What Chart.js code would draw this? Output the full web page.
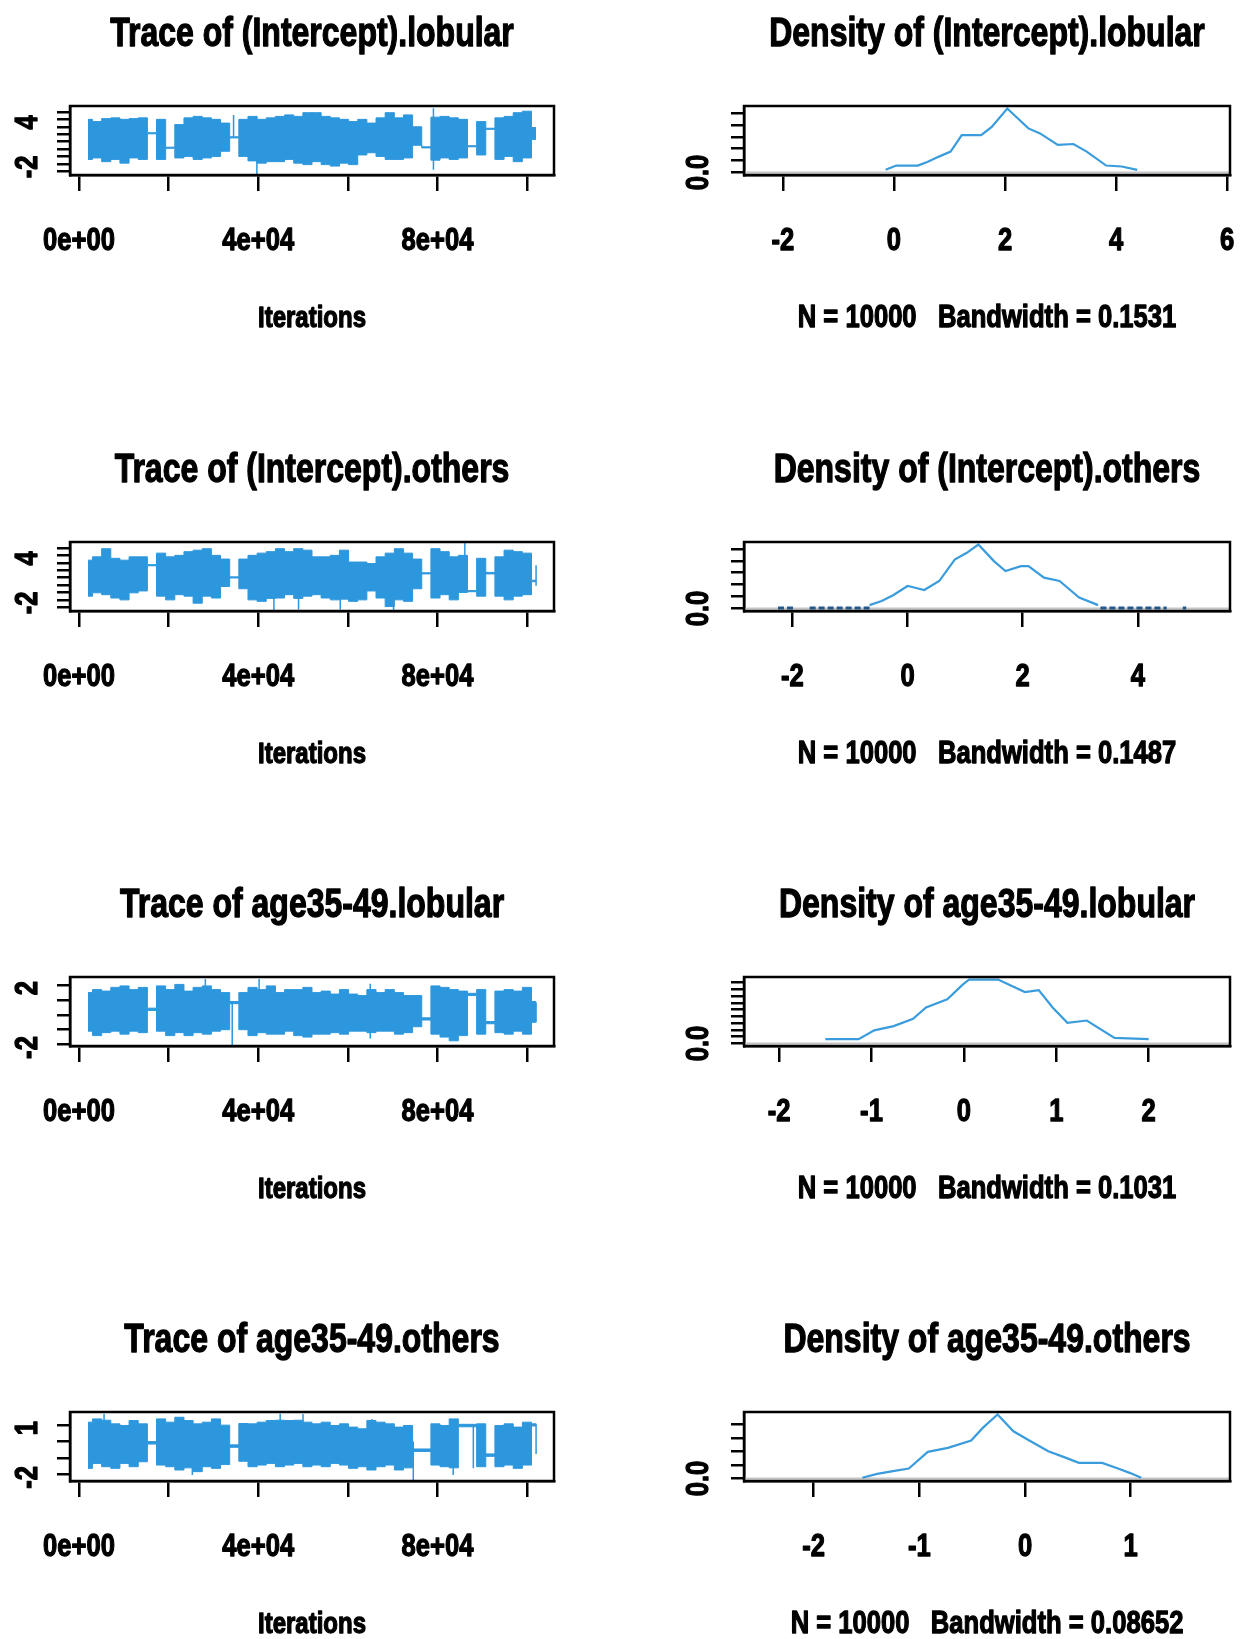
<!DOCTYPE html>
<html>
<head>
<meta charset="utf-8">
<script src="https://cdn.jsdelivr.net/npm/chart.js@4.4.0/dist/chart.umd.min.js"></script>
<style>
	html, body { margin: 0; padding: 0; background: #fff; width: 1249px; height: 1639px; overflow: hidden; }
	canvas { position: absolute; }
</style>
</head>
<body>
<script>
// bin centres (iterations) used for the trace envelopes
const iterations = [2000, 4041, 6082, 8122, 10163, 12204, 14245, 16286, 18327, 20367,
	22408, 24449, 26490, 28531, 30571, 32612, 34653, 36694, 38735, 40776,
	42816, 44857, 46898, 48939, 50980, 53020, 55061, 57102, 59143, 61184,
	63224, 65265, 67306, 69347, 71388, 73429, 75469, 77510, 79551, 81592,
	83633, 85673, 87714, 89755, 91796, 93837, 95878, 97918, 99959, 102000];
const traceXTicks = [0, 20000, 40000, 60000, 80000, 100000];
const traceXLabels = ['0e+00', '', '4e+04', '', '8e+04', ''];

// (Intercept).lobular
const lobularHi = [4.0, 3.7, 4.1, 4.2, 4.0, 4.1, 4.2, 2.2, 4.0, 0.25,
	3.3, 4.2, 4.4, 4.2, 4.0, 3.5, 1.65, 4.0, 4.4, 4.0,
	4.2, 4.4, 4.6, 4.4, 4.9, 4.9, 4.4, 4.2, 4.0, 3.7,
	4.0, 3.5, 4.2, 4.9, 4.2, 4.6, 3.0, 0.3, 4.3, 4.4,
	4.2, 4.0, 0.45, 3.7, 2.8, 4.2, 4.4, 4.9, 5.1, 2.9];
const lobularLo = [-1.4, -1.2, -1.7, -1.4, -1.9, -1.2, -1.4, 2.05, -1.4, 0.1,
	-1.2, -1.0, -1.4, -1.2, -1.0, -0.3, 1.5, -1.0, -1.6, -1.9,
	-1.7, -1.7, -1.4, -1.9, -2.1, -1.7, -2.1, -2.3, -1.9, -2.1,
	-0.8, -0.5, -1.0, -1.4, -1.4, -1.2, 0.5, 0.15, -1.5, -1.2,
	-1.4, -1.2, 0.3, -0.8, 2.65, -1.4, -1.0, -1.7, -1.2, 1.3];
const lobularSpikes = [[34500, 1.6, 4.6], [39700, -3.45, 0], [79100, -2.8, 5.5]];
const lobularYTicks = [-3, -2, -1, 0, 1, 2, 3, 4, 5];
const lobularYShown = [-2, 4];

// (Intercept).others
const othersHi = [3.35, 3.8, 4.9, 3.6, 3.35, 3.8, 3.8, 2.75, 4.3, 3.8,
	4.0, 4.5, 4.7, 4.9, 4.0, 3.5, 1.1, 3.5, 4.0, 4.3,
	4.5, 4.9, 4.5, 4.9, 4.7, 3.8, 3.8, 4.0, 4.7, 3.1,
	3.1, 2.9, 3.8, 4.3, 4.9, 4.3, 3.5, 1.65, 4.9, 4.5,
	3.8, 4.0, -0.75, 3.6, 1.7, 3.8, 4.7, 4.5, 4.3, 0.65];
const othersLo = [-1.5, -1.05, -1.3, -1.75, -2.0, -1.05, -0.8, 2.6, -1.5, -2.0,
	-1.3, -1.5, -2.45, -1.5, -1.75, -0.2, 0.95, -0.5, -2.0, -2.2,
	-1.8, -1.75, -1.3, -1.8, -1.5, -1.3, -1.75, -2.0, -1.9, -2.2,
	-2.0, -0.8, -1.75, -2.9, -2.0, -2.2, -0.5, 1.5, -1.75, -1.3,
	-2.0, -1.0, -0.9, -1.5, 1.5, -1.5, -2.0, -1.5, -1.3, 0.45];
const othersSpikes = [[43500, -3.37, 0], [49000, -3.3, 0], [58300, -3.3, 0], [70200, -3.37, 0],
	[86100, -0.82, 5.66], [102000, -0.1, 2.65]];
const othersYTicks = [-3, -2, -1, 0, 1, 2, 3, 4, 5];
const othersYShown = [-2, 4];

// age35-49.lobular
const ageLobHi = [1.5, 1.7, 1.6, 1.85, 1.95, 1.7, 1.85, 0.45, 1.95, 1.7,
	2.05, 1.6, 1.85, 1.95, 1.7, 1.5, 0.9, 1.5, 1.85, 1.7,
	1.95, 1.5, 1.7, 1.7, 1.85, 1.5, 1.6, 1.4, 1.7, 1.4,
	1.3, 1.7, 1.5, 1.7, 1.5, 1.3, 1.3, -0.2, 1.95, 1.85,
	1.7, 1.6, 1.45, 1.7, -0.45, 1.6, 1.7, 1.6, 1.85, 0.9];
const ageLobLo = [-1.1, -1.4, -1.2, -1.1, -1.3, -1.1, -1.2, 0.3, -1.1, -1.4,
	-1.2, -1.4, -1.2, -1.3, -1.1, -1.0, 0.75, -1.0, -1.4, -1.2,
	-1.3, -1.3, -1.1, -1.4, -1.5, -1.3, -1.3, -1.2, -1.3, -1.1,
	-1.1, -1.2, -1.1, -1.1, -1.3, -1.2, -0.8, -0.35, -1.3, -1.5,
	-1.75, -1.4, 1.3, -1.3, -0.6, -1.2, -1.3, -1.1, -1.3, -0.5];
const ageLobSpikes = [[28200, 0, 2.41], [34200, -2.09, 0.84], [40200, 0, 2.41], [65000, -1.6, 2.1], [102000, -0.5, 0.84]];
const ageLobYTicks = [-2, -1, 0, 1, 2];
const ageLobYShown = [-2, 2];

// age35-49.others
const ageOthHi = [1.18, 1.38, 1.3, 1.08, 0.98, 1.28, 1.08, 0.0, 1.38, 1.18,
	1.48, 1.28, 1.08, 1.18, 1.38, 1.0, -0.2, 1.1, 1.08, 1.18,
	1.28, 1.3, 1.28, 1.3, 1.18, 1.08, 1.18, 0.98, 1.08, 0.88,
	0.78, 1.28, 1.18, 1.08, 0.88, 0.98, -0.45, -0.45, 1.08, 0.98,
	1.38, 1.05, 1.05, 1.08, -0.75, 0.98, 1.08, 0.88, 1.18, 1.08];
const ageOthLo = [-1.63, -1.33, -1.53, -1.63, -1.33, -1.53, -1.23, -0.15, -1.43, -1.53,
	-1.73, -1.6, -1.83, -1.53, -1.63, -1.4, -0.35, -1.2, -1.53, -1.43,
	-1.33, -1.53, -1.43, -1.33, -1.53, -1.43, -1.53, -1.33, -1.43, -1.63,
	-1.53, -1.73, -1.53, -1.43, -1.73, -1.6, -0.6, -0.6, -1.43, -1.53,
	-1.6, 0.9, 0.9, -1.53, -0.9, -1.53, -1.43, -1.63, -1.43, 0.95];
const ageOthSpikes = [[5600, 0, 1.68], [25300, -2.04, 0], [44900, 0, 1.7], [50000, 0, 1.68], [65400, -1.73, 1.38],
	[74600, -2.34, 0], [83500, -2.04, 1.38], [88000, -1.63, 0.98], [102000, -0.75, 1.08]];
const ageOthYTicks = [-2, -1, 0, 1];
const ageOthYShown = [-2, 1];

// densities
const dens1X = [-0.15, 0.04, 0.43, 0.60, 0.81, 1.02, 1.22, 1.57, 1.76, 2.04, 2.42, 2.63, 2.95, 3.23, 3.47, 3.82, 4.10, 4.38];
const dens1Y = [0.022, 0.058, 0.058, 0.087, 0.133, 0.175, 0.314, 0.314, 0.383, 0.537, 0.370, 0.328, 0.231, 0.239, 0.175, 0.058, 0.050, 0.022];
const dens1XTicks = [-2, 0, 2, 4, 6];
const dens1YTicks = [0, 0.1, 0.2, 0.3, 0.4, 0.5];

const dens2X = [-0.66, -0.45, -0.25, 0.0, 0.08, 0.29, 0.55, 0.82, 1.03, 1.23, 1.50, 1.70, 1.97, 2.10, 2.37, 2.64, 2.98, 3.31];
const dens2Y = [0.028, 0.063, 0.111, 0.188, 0.180, 0.155, 0.230, 0.410, 0.467, 0.536, 0.397, 0.313, 0.355, 0.355, 0.258, 0.230, 0.092, 0.028];
const dens2TailX = [-2.25, -1.95, -1.8, -1.7, -0.66, 0.5, 3.35, 4.5, 4.65, 4.78, 4.84];
const dens2TailY = [0.004, 0.004, null, 0.004, 0.004, null, 0.004, 0.004, null, 0.004, 0.004];
const dens2XTicks = [-2, 0, 2, 4];
const dens2YTicks = [0, 0.1, 0.2, 0.3, 0.4, 0.5];

const dens3X = [-1.50, -1.14, -0.97, -0.76, -0.55, -0.41, -0.18, -0.01, 0.055, 0.37, 0.66, 0.81, 0.96, 1.12, 1.33, 1.63, 2.00];
const dens3Y = [0.063, 0.063, 0.193, 0.256, 0.362, 0.531, 0.652, 0.870, 0.942, 0.942, 0.758, 0.787, 0.531, 0.304, 0.338, 0.083, 0.063];
const dens3XTicks = [-2, -1, 0, 1, 2];
const dens3YTicks = [0, 0.1, 0.2, 0.3, 0.4, 0.5, 0.6, 0.7, 0.8, 0.9];

const dens4X = [-1.54, -1.40, -1.25, -1.10, -0.92, -0.73, -0.51, -0.40, -0.26, -0.11, 0.04, 0.22, 0.37, 0.51, 0.73, 0.88, 0.99, 1.10];
const dens4Y = [0.010, 0.068, 0.108, 0.148, 0.394, 0.453, 0.563, 0.750, 0.948, 0.700, 0.563, 0.404, 0.316, 0.231, 0.231, 0.148, 0.083, 0.010];
const dens4XTicks = [-2, -1, 0, 1];
const dens4YTicks = [0, 0.2, 0.4, 0.6, 0.8];

const ROWS = [0, 436, 871, 1306];
const BLUE = '#2d97dd';
const SQUEEZE = 0.8;

Chart.defaults.font.family = '"Liberation Sans", Arial, sans-serif';
Chart.defaults.font.weight = 'bold';
Chart.defaults.color = '#000';

const frame = {
	id: 'frame',
	afterDraw(chart) {
		const {ctx, chartArea: a} = chart;
		ctx.save();
		ctx.lineWidth = 2.5;
		ctx.strokeStyle = '#000';
		ctx.strokeRect(a.left, a.top, a.right - a.left, a.bottom - a.top);
		ctx.restore();
	}
};

// the old R device drew its bold text very narrow and heavy; squeeze every label around its anchor
function addCanvas(left, top, width) {
	const c = document.createElement('canvas');
	c.width = width;
	c.height = 435;
	c.style.left = left + 'px';
	c.style.top = top + 'px';
	document.body.appendChild(c);
	const ctx = c.getContext('2d');
	const fill = ctx.fillText.bind(ctx);
	const stroke = ctx.strokeText.bind(ctx);
	ctx.fillText = function (text, x, y) {
		ctx.save();
		ctx.translate(x, y);
		ctx.scale(SQUEEZE, 1);
		ctx.lineWidth = 1.3;
		ctx.lineJoin = 'round';
		ctx.strokeStyle = ctx.fillStyle;
		stroke(text, 0, 0);
		fill(text, 0, 0);
		ctx.restore();
	};
	return c;
}

function setTicks(values) {
	return s => { s.ticks = values.map(value => ({ value })); };
}

function panelOptions(o) {
	return {
		responsive: false,
		animation: false,
		devicePixelRatio: 1,
		layout: { padding: { left: 0, right: o.padRight, top: 0, bottom: 98 } },
		plugins: {
			legend: { display: false },
			tooltip: { enabled: false },
			title: {
				display: true, text: o.title, fullSize: false, color: '#000',
				font: { size: 40, weight: 'bold' }, padding: { top: 11, bottom: 47 }
			}
		},
		elements: { point: { radius: 0 }, line: { tension: 0 } },
		scales: {
			x: {
				type: 'linear', min: o.xMin, max: o.xMax,
				afterBuildTicks: setTicks(o.xTicks),
				afterFit: s => { s.height = 162; s.paddingLeft = 0; s.paddingRight = 0; },
				ticks: {
					autoSkip: false, maxRotation: 0,
					padding: 31, font: { size: 32, weight: 'bold' }, color: '#000',
					callback: o.xLabel
				},
				grid: { drawOnChartArea: false, tickLength: 16, color: '#000', lineWidth: 2.5 },
				border: { color: '#000', width: 2.5 },
				title: { display: true, text: o.xTitle, color: '#000', font: { size: o.xTitleSize, weight: 'bold' }, padding: { top: 0, bottom: 0 } }
			},
			y: {
				type: 'linear', min: o.yMin, max: o.yMax,
				afterBuildTicks: setTicks(o.yTicks),
				afterFit: s => { s.width = o.yWidth; },
				ticks: {
					autoSkip: false, minRotation: 90, maxRotation: 90, crossAlign: 'center',
					padding: o.yPad, labelOffset: o.yShift, font: { size: 32, weight: 'bold' }, color: '#000',
					callback: o.yLabel
				},
				grid: { drawOnChartArea: false, tickLength: 13, color: '#000', lineWidth: 2.5 },
				border: { color: '#000', width: 2.5 }
			}
		}
	};
}

function TraceChart(row, title, hi, lo, spikes, yMin, yMax, yTicks, shown) {
	const canvas = addCanvas(0, ROWS[row], 624);
	const spikePoints = [];
	spikes.forEach(s => {
		spikePoints.push({ x: s[0], y: s[1] }, { x: s[0], y: s[2] }, { x: s[0] + 1, y: null });
	});
	new Chart(canvas, {
		type: 'line',
		data: {
			datasets: [
				{ data: iterations.map((x, i) => ({ x, y: hi[i] })), stepped: 'middle', borderColor: BLUE, backgroundColor: BLUE, borderWidth: 1, fill: '+1' },
				{ data: iterations.map((x, i) => ({ x, y: lo[i] })), stepped: 'middle', borderColor: BLUE, borderWidth: 1, fill: false },
				{ data: spikePoints, borderColor: BLUE, borderWidth: 1.5, spanGaps: false, fill: false }
			]
		},
		options: panelOptions({
			title, padRight: 70, xMin: -2000, xMax: 106000, xTicks: traceXTicks,
			xLabel: (v, i) => traceXLabels[i], xTitle: 'Iterations', xTitleSize: 30,
			yMin, yMax, yTicks, yWidth: 70, yPad: 15, yShift: 3,
			yLabel: v => shown.includes(v) ? String(v) : ''
		}),
		plugins: [frame]
	});
}

function DensityChart(row, title, xs, ys, bandwidth, xMin, xMax, xTicks, yMax, yTicks, tailX, tailY) {
	const canvas = addCanvas(624, ROWS[row], 625);
	const datasets = [
		{ data: xs.map((x, i) => ({ x, y: ys[i] })), borderColor: '#3a9cdc', borderWidth: 2.2, fill: false }
	];
	if (tailX) {
		datasets.push({ data: tailX.map((x, i) => ({ x, y: tailY[i] })), borderColor: '#24578a', borderWidth: 3, borderDash: [6, 3], spanGaps: false, fill: false });
	}
	datasets.push({ data: [{ x: xMin, y: 0 }, { x: xMax, y: 0 }], borderColor: '#c4c4c4', borderWidth: 2, fill: false });
	new Chart(canvas, {
		type: 'line',
		data: { datasets },
		options: panelOptions({
			title, padRight: 19, xMin, xMax, xTicks, xLabel: v => String(v),
			xTitle: 'N = 10000   Bandwidth = ' + bandwidth, xTitleSize: 32,
			yMin: -0.04 * yMax, yMax: 1.04 * yMax, yTicks, yWidth: 120, yPad: 10, yShift: 0,
			yLabel: v => v === 0 ? '0.0' : ''
		}),
		plugins: [frame]
	});
}

TraceChart(0, 'Trace of (Intercept).lobular', lobularHi, lobularLo, lobularSpikes, -3.5, 5.8, lobularYTicks, lobularYShown);
TraceChart(1, 'Trace of (Intercept).others', othersHi, othersLo, othersSpikes, -3.5, 5.8, othersYTicks, othersYShown);
TraceChart(2, 'Trace of age35-49.lobular', ageLobHi, ageLobLo, ageLobSpikes, -2.1, 2.55, ageLobYTicks, ageLobYShown);
TraceChart(3, 'Trace of age35-49.others', ageOthHi, ageOthLo, ageOthSpikes, -2.4, 1.8, ageOthYTicks, ageOthYShown);

DensityChart(0, 'Density of (Intercept).lobular', dens1X, dens1Y, '0.1531', -2.7, 6.05, dens1XTicks, 0.537, dens1YTicks);
DensityChart(1, 'Density of (Intercept).others', dens2X, dens2Y, '0.1487', -2.84, 5.6, dens2XTicks, 0.536, dens2YTicks, dens2TailX, dens2TailY);
DensityChart(2, 'Density of age35-49.lobular', dens3X, dens3Y, '0.1031', -2.38, 2.88, dens3XTicks, 0.942, dens3YTicks);
DensityChart(3, 'Density of age35-49.others', dens4X, dens4Y, '0.08652', -2.66, 1.94, dens4XTicks, 0.948, dens4YTicks);
</script>
</body>
</html>
